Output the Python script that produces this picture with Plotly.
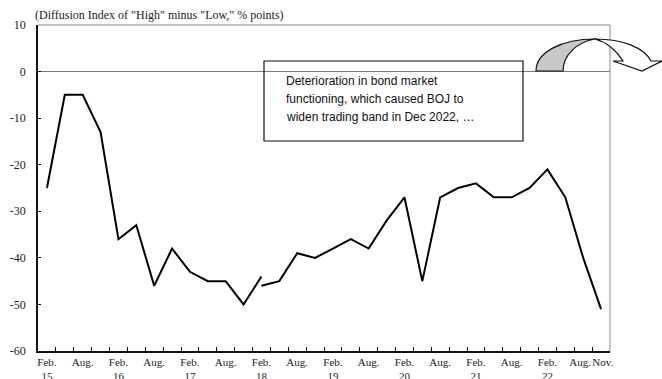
import plotly.graph_objects as go

# Quarterly survey periods, Feb. 2015 - Nov. 2022
quarters = [f"{m} {y}" for y in range(2015, 2023) for m in ("Feb", "May", "Aug", "Nov")]

# DI series on the old basis (through Feb. 2018) and the revised basis (from Feb. 2018)
di_old = [-25, -5, -5, -13, -36, -33, -46, -38, -43, -45, -45, -50, -44]
di_new = [-46, -45, -39, -40, -38, -36, -38, -32, -27, -45, -27, -25, -24,
          -27, -27, -25, -21, -27, -40, -51]

# Axis tick labels: every Feb./Aug., plus the final Nov. survey
tick_idx = list(range(0, 32, 2)) + [31]
tick_text = []
for i in tick_idx:
    m, y = quarters[i].split()
    if m == "Feb":
        tick_text.append(f"Feb.<br>{y[2:]}")
    else:
        tick_text.append(f"{m}.")
y_ticks = [10, 0, -10, -20, -30, -40, -50, -60]
y_text = [str(v) for v in y_ticks]

# The last two labels sit close together; spread them a little apart
label_pos = [float(i) for i in tick_idx]
label_pos[-2] -= 0.17
label_pos[-1] += 0.1

idx_old = list(range(0, len(di_old)))
idx_new = list(range(len(di_old) - 1, len(di_old) - 1 + len(di_new)))

FIG_W, FIG_H = 662, 379
L, R, T, B = 38, 52, 25, 28
PW, PH = FIG_W - L - R, FIG_H - T - B


def pp(px, py):
    """Convert page pixels to paper coordinates."""
    return (px - L) / PW, (FIG_H - B - py) / PH


def path(cmds):
    out = []
    for c in cmds:
        if isinstance(c, str):
            out.append(c)
        else:
            x, y = pp(*c)
            out.append(f"{x:.5f},{y:.5f}")
    return " ".join(out)


line_style = dict(color="black", width=2)
fig = go.Figure()
fig.add_trace(go.Scatter(x=idx_old, y=di_old, mode="lines", line=line_style,
                         showlegend=False, hoverinfo="skip"))
fig.add_trace(go.Scatter(x=idx_new, y=di_new, mode="lines", line=line_style,
                         showlegend=False, hoverinfo="skip"))

serif = "Liberation Serif"
sans = "Liberation Sans"

fig.update_layout(
    width=FIG_W, height=FIG_H,
    margin=dict(l=L, r=R, t=T, b=B, pad=0),
    paper_bgcolor="white", plot_bgcolor="white",
    xaxis=dict(
        range=[-0.5, 31.5], tickmode="array", tickvals=label_pos, ticktext=tick_text,
        tickangle=0, automargin=False,
        ticks="", showgrid=False, zeroline=False,
        showline=True, linecolor="#111", linewidth=1.5,
        tickfont=dict(family=serif, size=11, color="#222"),
        minor=dict(tickmode="array", tickvals=[k - 0.5 for k in range(1, 32)],
                   ticks="inside", ticklen=4, tickcolor="#111", tickwidth=1,
                   showgrid=False),
    ),
    yaxis=dict(
        range=[-60, 10], tickmode="array", tickvals=y_ticks, ticktext=y_text,
        automargin=False,
        ticks="inside", ticklen=3, tickcolor="#111",
        showgrid=False, zeroline=True, zerolinecolor="#7a7a7a", zerolinewidth=1,
        showline=True, linecolor="#111", linewidth=1.5,
        tickfont=dict(family=serif, size=12, color="#222"),
        ticklabelstandoff=8,
    ),
)

# Top and right frame lines (lighter)
fig.add_shape(type="line", xref="paper", yref="paper", x0=0, x1=1, y0=1, y1=1,
              line=dict(color="#8a8a8a", width=1))
fig.add_shape(type="line", xref="paper", yref="paper", x0=1, x1=1, y0=0, y1=1,
              line=dict(color="#8a8a8a", width=1))

# Unit note above the plot
fig.add_annotation(xref="paper", yref="paper", x=pp(33, 0)[0], y=1, yanchor="bottom",
                   xanchor="left", showarrow=False, yshift=1,
                   text="(Diffusion Index of \"High\" minus \"Low,\" % points)",
                   font=dict(family=serif, size=12, color="#222"))

# Call-out box
x0, y0 = pp(264, 141)
x1, y1 = pp(523, 61)
fig.add_shape(type="rect", xref="paper", yref="paper", x0=x0, y0=y0, x1=x1, y1=y1,
              line=dict(color="#111", width=1.2), fillcolor="rgba(0,0,0,0)")
callout = ["Deterioration in bond market",
           "functioning, which caused BOJ to",
           "widen trading band in Dec 2022, \u2026"]
for i, s in enumerate(callout):
    ax, ay = pp(284, 81 + 18 * i)
    fig.add_annotation(xref="paper", yref="paper", x=ax, y=ay, xanchor="left",
                       yanchor="middle", showarrow=False, text=s,
                       font=dict(family=sans, size=12, color="#111"))

# Curved arrow pointing onward (shaded inner face + white body)
fig.add_shape(type="path", xref="paper", yref="paper",
              path=path(["M", (536, 71), "C", (536, 52), (562, 39), (595, 39),
                         "C", (577, 42), (563, 55), (563, 71), "Z"]),
              fillcolor="#c8c8c8", line=dict(color="#111", width=1.2))
fig.add_shape(type="path", xref="paper", yref="paper",
              path=path(["M", (595, 39), "C", (624, 39), (644, 48), (651, 61),
                         "L", (662, 61), "L", (642, 71), "L", (613, 61),
                         "L", (623, 61), "C", (616, 50), (606, 42), (595, 39), "Z"]),
              fillcolor="white", line=dict(color="#111", width=1.2))

fig.write_html("out.html")
